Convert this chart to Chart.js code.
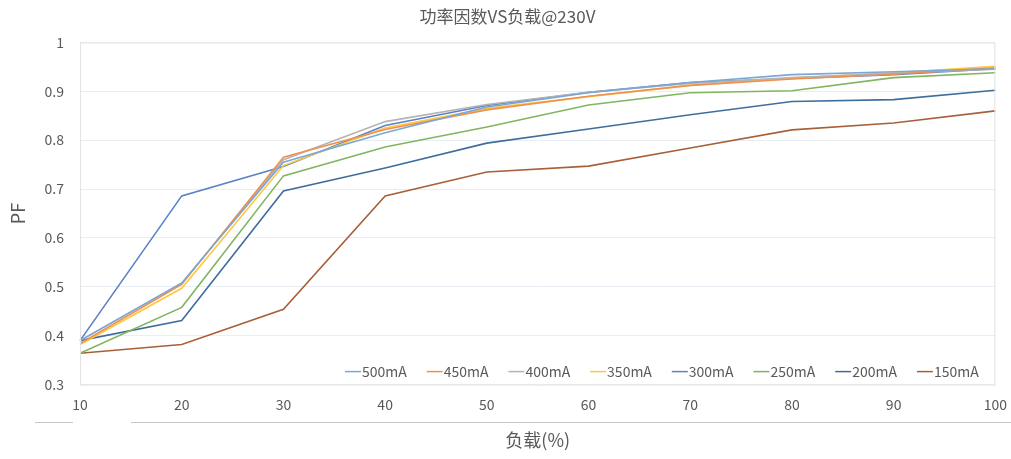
<!DOCTYPE html>
<html>
<head>
<meta charset="utf-8">
<script src="https://cdn.jsdelivr.net/npm/chart.js@4.4.1/dist/chart.umd.min.js"></script>
<style>
  html, body { margin: 0; padding: 0; background: #fff; }
  #wrap { width: 1011px; height: 459px; position: relative; }
</style>
</head>
<body>
<div id="wrap"><canvas id="pfChart"></canvas></div>
<script>
// 负载 (%)
const loads = ['10', '20', '30', '40', '50', '60', '70', '80', '90', '100'];

// PF values per current
const pf500 = [0.390, 0.508, 0.755, 0.815, 0.868, 0.897, 0.918, 0.934, 0.940, 0.946];
const pf450 = [0.384, 0.505, 0.765, 0.822, 0.862, 0.890, 0.912, 0.925, 0.935, 0.948];
const pf400 = [0.390, 0.507, 0.760, 0.838, 0.873, 0.898, 0.916, 0.928, 0.937, 0.945];
const pf350 = [0.382, 0.497, 0.748, 0.825, 0.865, 0.889, 0.912, 0.927, 0.938, 0.951];
const pf300 = [0.390, 0.686, 0.746, 0.830, 0.871, 0.898, 0.918, 0.926, 0.934, 0.946];
const pf250 = [0.364, 0.458, 0.727, 0.786, 0.827, 0.872, 0.897, 0.901, 0.928, 0.938];
const pf200 = [0.390, 0.431, 0.696, 0.743, 0.794, 0.823, 0.852, 0.879, 0.883, 0.902];
const pf150 = [0.364, 0.382, 0.454, 0.686, 0.735, 0.747, 0.784, 0.821, 0.835, 0.860];

const seriesNames = ['500mA', '450mA', '400mA', '350mA', '300mA', '250mA', '200mA', '150mA'];
const seriesData = [pf500, pf450, pf400, pf350, pf300, pf250, pf200, pf150];
const seriesColors = ['#79a8d8', '#f09050', '#b4b4b4', '#ffc83c', '#5a82c8', '#82b560', '#3f6e9c', '#a8603a'];

const FONT = '"Noto Sans CJK SC", "Noto Sans", sans-serif';
const TEXT = '#595959';

// legend drawn inside the bottom of the plot area, like the Excel original
const innerLegend = {
    id: 'innerLegend',
    afterDatasetsDraw(chart) {
        const c = chart.ctx;
        const area = chart.chartArea;
        c.save();
        // plot border
        c.strokeStyle = '#e3e3e3';
        c.lineWidth = 1;
        c.strokeRect(area.left + 0.5, area.top + 0.5, area.right - area.left - 1, area.bottom - area.top);

        c.font = '14px ' + FONT;
        c.textBaseline = 'middle';
        const y = area.bottom - 13;
        let x = 345;
        chart.data.datasets.forEach(ds => {
            c.strokeStyle = ds.borderColor;
            c.lineWidth = 1.5;
            c.beginPath();
            c.moveTo(x, y);
            c.lineTo(x + 16, y);
            c.stroke();
            c.fillStyle = TEXT;
            c.fillText(ds.label, x + 17, y);
            x += 81.7;
        });

        // stray frame lines under the tick labels in the screenshot
        c.strokeStyle = '#c8c8c8';
        c.lineWidth = 1;
        c.beginPath();
        c.moveTo(35, 422.5); c.lineTo(73, 422.5);
        c.moveTo(131, 422.5); c.lineTo(1011, 422.5);
        c.stroke();
        c.restore();
    }
};

new Chart(document.getElementById('pfChart'), {
    type: 'line',
    data: {
        labels: loads,
        datasets: seriesNames.map((name, i) => ({
            label: name,
            data: seriesData[i],
            borderColor: seriesColors[i],
            backgroundColor: seriesColors[i],
            borderWidth: 1.6,
            pointRadius: 0,
            tension: 0
        }))
    },
    options: {
        responsive: true,
        maintainAspectRatio: false,
        animation: false,
        layout: { padding: { left: 7, right: 3, top: 4, bottom: 8 } },
        plugins: {
            legend: { display: false },
            tooltip: { enabled: false },
            title: {
                display: true,
                text: '功率因数VS负载@230V',
                color: TEXT,
                font: { family: FONT, size: 17, weight: 'normal' },
                padding: { top: 2, bottom: 16 }
            }
        },
        scales: {
            x: {
                offset: false,
                grid: { display: false },
                border: { display: false },
                ticks: { color: TEXT, font: { family: FONT, size: 14 }, padding: 4, maxRotation: 0 },
                title: {
                    display: true,
                    text: '负载(%)',
                    color: TEXT,
                    font: { family: FONT, size: 18 },
                    padding: { top: 12, bottom: 0 }
                }
            },
            y: {
                min: 0.3,
                max: 1,
                grid: { color: '#e8eef4', drawTicks: false },
                border: { display: false },
                ticks: {
                    stepSize: 0.1,
                    color: TEXT,
                    font: { family: FONT, size: 14 },
                    padding: 16,
                    callback: v => Number(v.toFixed(1)).toString()
                },
                title: {
                    display: true,
                    text: 'PF',
                    color: TEXT,
                    font: { family: FONT, size: 18 },
                    padding: { top: 0, bottom: 0 }
                }
            }
        }
    },
    plugins: [innerLegend]
});
</script>
</body>
</html>
